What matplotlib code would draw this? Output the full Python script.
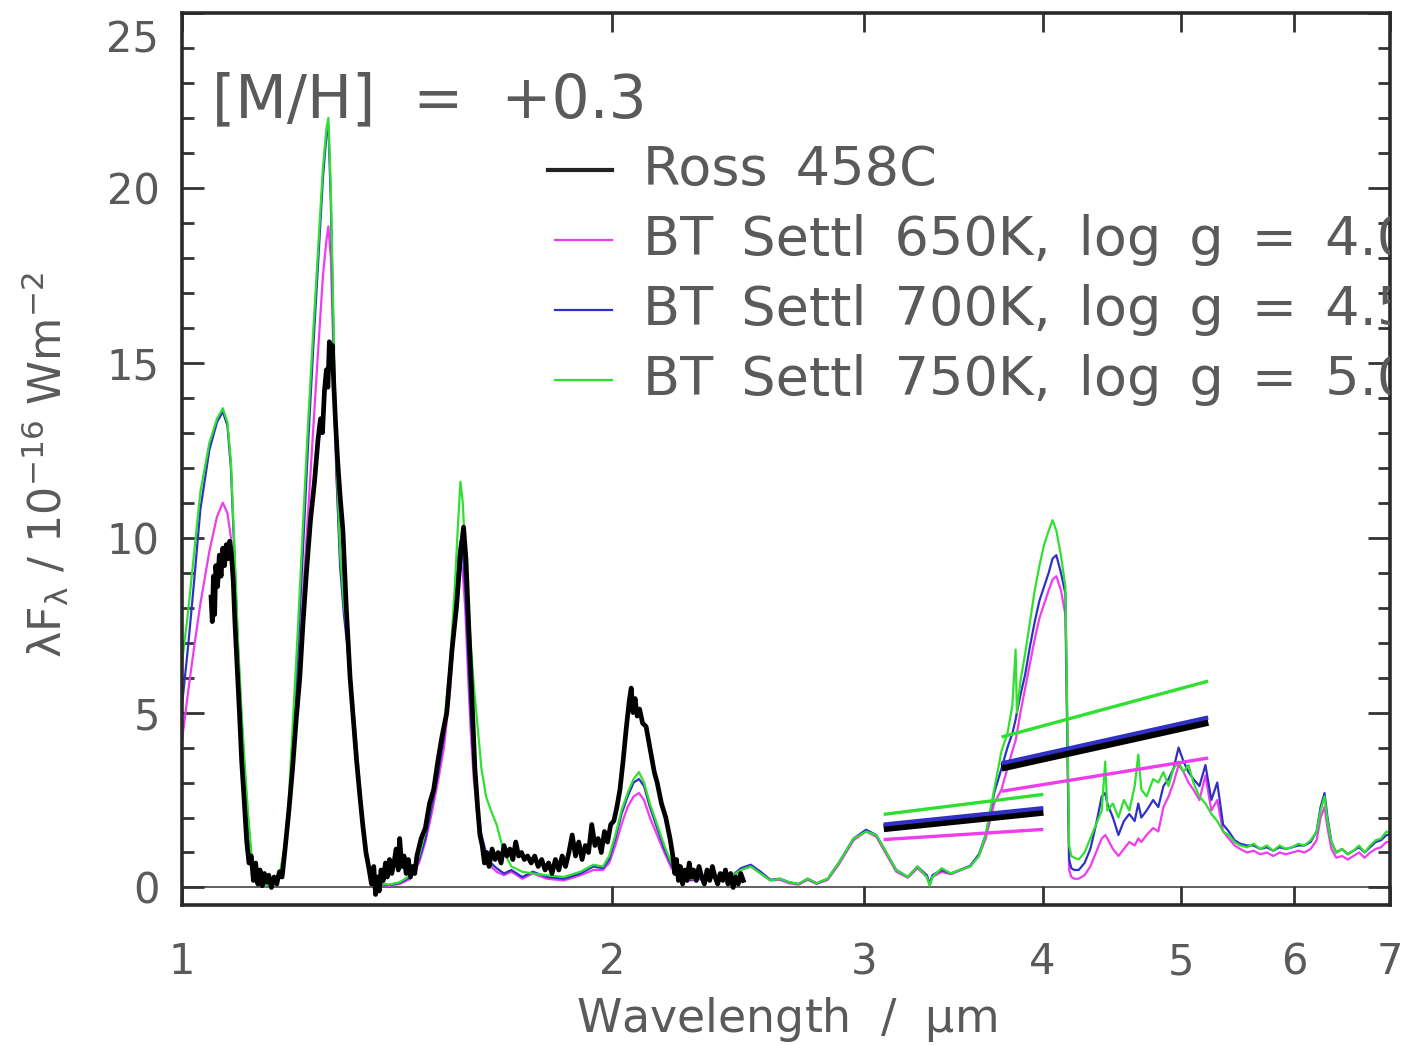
import matplotlib.pyplot as plt
from matplotlib.ticker import MultipleLocator, NullLocator

plt.rcParams['font.family'] = 'DejaVu Sans'
plt.rcParams['mathtext.default'] = 'regular'

# Ross 458C observed spectrum (wavelength in micron, lambda*F_lambda in 1e-16 W/m2)
ross_wl = [1.048, 1.050, 1.052, 1.054, 1.056, 1.059, 1.062, 1.065, 1.068, 1.071,
           1.074, 1.077, 1.080, 1.083, 1.086, 1.089, 1.093, 1.097, 1.101, 1.105,
           1.110, 1.114, 1.118, 1.122, 1.126, 1.130, 1.134, 1.138, 1.142, 1.146,
           1.150, 1.155, 1.160, 1.165, 1.170, 1.175, 1.180, 1.188, 1.195, 1.202,
           1.209, 1.215, 1.222, 1.230, 1.238, 1.245, 1.250, 1.254, 1.258, 1.262,
           1.265, 1.268, 1.271, 1.274, 1.277, 1.281, 1.285, 1.290, 1.296, 1.303,
           1.311, 1.318, 1.325, 1.332, 1.338, 1.345, 1.352, 1.357, 1.362, 1.366,
           1.370, 1.374, 1.378, 1.383, 1.388, 1.392, 1.397, 1.402, 1.407, 1.412,
           1.417, 1.420, 1.425, 1.430, 1.435, 1.440, 1.445, 1.450, 1.455, 1.460,
           1.470, 1.480, 1.490, 1.500, 1.510, 1.520, 1.532, 1.545, 1.556, 1.566,
           1.574, 1.580, 1.587, 1.595, 1.603, 1.610, 1.616, 1.622, 1.628, 1.634,
           1.640, 1.648, 1.656, 1.664, 1.672, 1.680, 1.688, 1.696, 1.704, 1.712,
           1.720, 1.728, 1.736, 1.745, 1.755, 1.765, 1.775, 1.785, 1.795, 1.805,
           1.815, 1.825, 1.835, 1.845, 1.855, 1.865, 1.875, 1.885, 1.895, 1.905,
           1.915, 1.925, 1.935, 1.945, 1.955, 1.965, 1.975, 1.985, 1.995, 2.005,
           2.015, 2.025, 2.035, 2.045, 2.055, 2.062, 2.068, 2.075, 2.082, 2.090,
           2.100, 2.112, 2.125, 2.140, 2.150, 2.165, 2.180, 2.195, 2.205, 2.212,
           2.218, 2.225, 2.232, 2.240, 2.248, 2.256, 2.264, 2.272, 2.280, 2.290,
           2.300, 2.310, 2.320, 2.330, 2.340, 2.350, 2.360, 2.370, 2.380, 2.390,
           2.400, 2.410, 2.420, 2.430, 2.440, 2.450, 2.460, 2.470]
ross_flux = [8.3, 7.6, 8.9, 7.8, 9.2, 8.6, 9.5, 8.9, 9.7, 9.2,
             9.8, 9.4, 9.9, 9.5, 8.8, 7.6, 6.3, 5.0, 3.6, 2.6,
             1.3, 0.7, 0.9, 0.2, 0.7, 0.1, 0.5, 0.05, 0.4, 0.15,
             0.35, 0.0, 0.3, 0.1, 0.45, 0.3, 1.0, 2.2, 3.4, 4.8,
             6.0, 7.5, 9.0, 10.5, 11.6, 12.8, 13.4, 13.0, 14.2, 14.8,
             14.3, 15.6, 15.0, 15.5, 14.4, 13.2, 12.2, 11.2, 10.2, 8.0,
             6.0, 4.8, 3.6, 2.6, 1.8, 1.0, 0.5, 0.1, 0.6, -0.2,
             0.3, -0.1, 0.5, 0.2, 0.7, 0.3, 0.8, 0.4, 0.7, 1.1,
             0.5, 1.4, 0.6, 0.9, 0.4, 0.8, 0.3, 0.6, 0.4, 0.9,
             1.4, 1.7, 2.4, 2.8, 3.6, 4.3, 5.0, 6.8, 8.0, 9.5,
             10.3, 9.4, 7.5, 5.5, 3.4, 2.3, 1.5, 1.2, 0.7, 1.0,
             0.6, 1.1, 0.8, 1.0, 0.7, 1.2, 0.9, 1.1, 0.8, 1.3,
             0.9, 1.0, 0.8, 0.9, 0.7, 0.9, 0.6, 0.8, 0.5, 0.7,
             0.4, 0.8, 0.5, 0.9, 0.6, 1.0, 1.5, 0.9, 1.3, 0.8,
             1.2, 1.0, 1.8, 1.2, 1.4, 1.0, 1.6, 1.3, 1.8, 1.9,
             2.3, 2.8, 3.6, 4.5, 5.3, 5.7, 5.0, 5.4, 4.9, 5.1,
             4.7, 4.6, 4.0, 3.3, 3.0, 2.4, 2.0, 1.4, 0.9, 0.4,
             0.8, 0.2, 0.6, 0.1, 0.5, 0.2, 0.7, 0.3, 0.5, 0.2,
             0.6, 0.3, 0.1, 0.5, 0.2, 0.6, 0.3, 0.1, 0.4, 0.2,
             0.5, 0.1, 0.4, 0.0, 0.3, 0.1, 0.4, 0.2]

# BT-Settl model spectra on a shared wavelength grid
model_wl = [1.000, 1.010, 1.020, 1.030, 1.045, 1.058, 1.068, 1.076, 1.082, 1.088,
            1.094, 1.100, 1.106, 1.112, 1.118, 1.124, 1.132, 1.145, 1.160, 1.172,
            1.180, 1.188, 1.196, 1.205, 1.215, 1.225, 1.235, 1.245, 1.255, 1.262,
            1.266, 1.271, 1.276, 1.282, 1.290, 1.298, 1.306, 1.315, 1.325, 1.335,
            1.345, 1.355, 1.370, 1.395, 1.420, 1.445, 1.465, 1.480, 1.495, 1.510,
            1.525, 1.540, 1.552, 1.560, 1.566, 1.572, 1.578, 1.585, 1.592, 1.600,
            1.610, 1.620, 1.632, 1.645, 1.660, 1.680, 1.700, 1.730, 1.760, 1.800,
            1.850, 1.900, 1.940, 1.970, 1.990, 2.010, 2.030, 2.050, 2.070, 2.088,
            2.105, 2.125, 2.150, 2.175, 2.200, 2.230, 2.270, 2.320, 2.370, 2.420,
            2.460, 2.500, 2.540, 2.580, 2.620, 2.660, 2.700, 2.740, 2.780, 2.830,
            2.880, 2.950, 3.010, 3.060, 3.100, 3.160, 3.220, 3.270, 3.320, 3.335,
            3.350, 3.400, 3.450, 3.500, 3.560, 3.610, 3.650, 3.700, 3.744, 3.780,
            3.810, 3.830, 3.838, 3.860, 3.890, 3.920, 3.950, 3.980, 4.010, 4.040,
            4.065, 4.090, 4.120, 4.150, 4.175, 4.190, 4.210, 4.240, 4.280, 4.320,
            4.360, 4.400, 4.425, 4.440, 4.480, 4.520, 4.560, 4.600, 4.640, 4.667,
            4.690, 4.730, 4.780, 4.820, 4.860, 4.900, 4.940, 4.980, 5.020, 5.060,
            5.100, 5.150, 5.200, 5.250, 5.300, 5.350, 5.400, 5.450, 5.500, 5.560,
            5.620, 5.680, 5.740, 5.800, 5.860, 5.920, 5.980, 6.040, 6.100, 6.160,
            6.220, 6.260, 6.300, 6.330, 6.370, 6.420, 6.480, 6.540, 6.600, 6.660,
            6.720, 6.780, 6.840, 6.900, 6.960, 7.000]
settl_650 = [4.2, 5.6, 6.9, 8.1, 9.6, 10.6, 11.0, 10.7, 10.0, 8.4,
             6.4, 4.6, 3.1, 1.8, 0.8, 0.3, 0.08, 0.03, 0.1, 0.4,
             1.0, 2.1, 3.8, 5.9, 8.3, 10.7, 13.0, 15.3, 17.5, 18.5,
             18.9, 18.0, 15.5, 12.0, 9.5, 8.2, 6.8, 5.0, 3.5, 2.0,
             0.9, 0.35, 0.1, 0.05, 0.1, 0.25, 0.7, 1.3, 2.1, 3.0,
             4.0, 5.6, 7.5, 8.8, 9.3, 9.0, 8.0, 6.2, 4.5, 3.1,
             2.0, 1.3, 0.9, 0.6, 0.45, 0.35, 0.45, 0.25, 0.4, 0.25,
             0.2, 0.35, 0.5, 0.5, 0.7, 1.2, 1.8, 2.3, 2.6, 2.7,
             2.5, 2.0, 1.5, 1.0, 0.55, 0.25, 0.2, 0.25, 0.3, 0.25,
             0.5, 0.6, 0.4, 0.2, 0.22, 0.12, 0.08, 0.22, 0.1, 0.22,
             0.65, 1.35, 1.6, 1.45, 1.05, 0.45, 0.28, 0.55, 0.3, 0.08,
             0.3, 0.45, 0.38, 0.48, 0.6, 0.9, 1.4, 2.4, 2.8, 3.4,
             3.9, 4.2, 4.4, 5.0, 5.7, 6.4, 7.1, 7.7, 8.1, 8.5,
             8.8, 8.9, 8.5, 7.8, 0.5, 0.3, 0.25, 0.25, 0.35, 0.6,
             1.0, 1.4, 1.5, 1.4, 1.1, 0.9, 1.1, 1.3, 1.2, 1.4,
             1.3, 1.5, 1.7, 1.6, 2.3, 2.6, 3.0, 3.5, 3.3, 3.0,
             2.8, 2.5, 3.2, 2.2, 2.5, 1.6, 1.4, 1.2, 1.1, 1.0,
             1.05, 0.95, 1.0, 0.9, 1.0, 0.95, 1.0, 1.05, 1.0, 1.1,
             1.35, 2.0, 2.3, 1.7, 1.1, 0.85, 0.9, 0.8, 0.9, 1.0,
             0.85, 1.0, 1.1, 1.15, 1.3, 1.3]
settl_700 = [5.2, 6.9, 8.8, 10.8, 12.5, 13.3, 13.6, 13.2, 12.0, 9.6,
             7.0, 5.0, 3.4, 2.0, 0.9, 0.35, 0.1, 0.04, 0.12, 0.45,
             1.1, 2.3, 4.3, 6.7, 9.6, 12.6, 15.3, 17.8, 20.3, 21.5,
             21.8, 19.6, 16.0, 12.0, 9.2, 7.8, 6.8, 5.3, 3.8, 2.2,
             1.0, 0.4, 0.13, 0.07, 0.13, 0.3, 0.8, 1.4, 2.3, 3.2,
             4.3, 6.0, 8.0, 9.4, 9.9, 9.6, 8.6, 6.8, 5.0, 3.5,
             2.3, 1.5, 1.0, 0.7, 0.55, 0.4, 0.5, 0.3, 0.45, 0.3,
             0.25, 0.4, 0.6, 0.55, 0.8, 1.4, 2.1, 2.6, 3.0, 3.1,
             2.9, 2.3, 1.7, 1.1, 0.65, 0.3, 0.22, 0.28, 0.32, 0.3,
             0.55, 0.65, 0.45, 0.22, 0.25, 0.15, 0.1, 0.25, 0.12, 0.25,
             0.7, 1.4, 1.65, 1.5, 1.1, 0.5, 0.3, 0.6, 0.35, 0.1,
             0.35, 0.5, 0.4, 0.5, 0.62, 0.95, 1.5, 2.7, 3.4, 4.0,
             4.4, 4.8, 5.0, 5.5, 6.1, 6.9, 7.6, 8.2, 8.6, 9.0,
             9.4, 9.5, 9.0, 8.4, 0.8, 0.55, 0.5, 0.5, 0.7, 1.1,
             1.8, 2.6, 2.7, 2.4, 2.0, 1.5, 1.9, 2.1, 1.9, 2.4,
             2.0, 2.2, 2.5, 2.3, 2.9, 3.1, 3.4, 4.0, 3.6, 3.3,
             3.1, 2.9, 3.5, 2.5, 3.0, 1.8, 1.6, 1.35, 1.25, 1.2,
             1.2, 1.1, 1.15, 1.05, 1.15, 1.1, 1.15, 1.2, 1.2, 1.3,
             1.6, 2.3, 2.7, 2.0, 1.3, 1.0, 1.1, 0.95, 1.05, 1.15,
             1.0, 1.15, 1.3, 1.35, 1.5, 1.5]
settl_750 = [6.4, 7.9, 9.6, 11.3, 12.7, 13.4, 13.7, 13.3, 12.2, 9.8,
             7.2, 5.2, 3.6, 2.2, 1.0, 0.4, 0.12, 0.05, 0.15, 0.5,
             1.2, 2.6, 4.8, 7.3, 10.3, 13.2, 15.8, 18.2, 20.6, 21.7,
             22.0, 20.0, 16.5, 12.5, 9.6, 8.1, 7.1, 5.6, 4.0, 2.4,
             1.1, 0.45, 0.15, 0.08, 0.15, 0.35, 0.9, 1.6, 2.5, 3.5,
             4.6, 6.4, 8.6, 10.4, 11.6, 11.0, 9.6, 8.3, 7.0, 5.8,
             4.6, 3.4, 2.6, 2.2, 1.8, 1.0, 0.6, 0.45, 0.4, 0.35,
             0.3, 0.45, 0.65, 0.6, 0.9, 1.5, 2.2, 2.7, 3.1, 3.3,
             3.0, 2.4, 1.8, 1.2, 0.7, 0.35, 0.25, 0.3, 0.35, 0.3,
             0.5, 0.6, 0.4, 0.2, 0.25, 0.15, 0.1, 0.25, 0.12, 0.25,
             0.7, 1.4, 1.6, 1.5, 1.1, 0.5, 0.3, 0.6, 0.3, 0.05,
             0.3, 0.55, 0.4, 0.5, 0.6, 0.9, 1.5, 2.8, 3.9, 4.4,
             5.2, 6.8, 5.0, 5.9, 6.7, 7.6, 8.5, 9.2, 9.8, 10.2,
             10.5, 10.2, 9.5, 8.6, 1.2, 0.9, 0.85, 0.8, 1.0, 1.4,
             1.8, 2.2, 3.6, 2.2, 2.4, 2.0, 2.5, 2.2, 2.9, 3.8,
             2.8, 2.6, 3.1, 3.0, 3.3, 2.9, 3.4, 3.6, 3.3, 3.5,
             3.0, 2.6, 2.4, 2.1, 1.9, 1.6, 1.5, 1.3, 1.2, 1.15,
             1.25, 1.1, 1.2, 1.05, 1.2, 1.1, 1.15, 1.25, 1.2, 1.35,
             1.6, 2.2, 2.6, 1.9, 1.3, 1.0, 1.1, 0.95, 1.05, 1.2,
             1.0, 1.2, 1.35, 1.4, 1.6, 1.55]

# photometric band segments: [start, end] wavelength and flux at each end
band1_wl = [3.097, 4.005]
band2_wl = [3.744, 5.223]
ross_band1 = [1.70, 2.17]
ross_band2 = [3.43, 4.74]
settl_650_band1 = [1.37, 1.66]
settl_650_band2 = [2.75, 3.70]
settl_700_band1 = [1.80, 2.27]
settl_700_band2 = [3.55, 4.86]
settl_750_band1 = [2.09, 2.66]
settl_750_band2 = [4.30, 5.90]

# word gaps widened with a thin space
sp = ' \u2009'
labels = ['Ross' + sp + '458C',
          sp.join(['BT', 'Settl', '650K,', 'log', 'g', '=', '4.0']),
          sp.join(['BT', 'Settl', '700K,', 'log', 'g', '=', '4.5']),
          sp.join(['BT', 'Settl', '750K,', 'log', 'g', '=', '5.0'])]
x_ticks = [1, 2, 3, 4, 5, 6, 7]
y_ticks = [0, 5, 10, 15, 20, 25]

pink = '#ee3cee'
blue = '#3030c8'
green = '#30e030'
grey = '#5a5a5a'

fig = plt.figure(figsize=(14.25, 10.45), dpi=100)
ax = fig.add_axes([0.1277, 0.1340, 0.8477, 0.8536])

ax.axhline(0, color='#444444', lw=1.2, zorder=1)

ax.plot(model_wl, settl_650, color=pink, lw=1.6)
ax.plot(model_wl, settl_700, color=blue, lw=1.6)
ax.plot(model_wl, settl_750, color=green, lw=1.6)
ax.plot(ross_wl, ross_flux, color='black', lw=3.4)

for wl, r, p, b, g in [(band1_wl, ross_band1, settl_650_band1, settl_700_band1, settl_750_band1),
                       (band2_wl, ross_band2, settl_650_band2, settl_700_band2, settl_750_band2)]:
    ax.plot(wl, p, color=pink, lw=2.4, solid_capstyle='butt')
    ax.plot(wl, g, color=green, lw=2.4, solid_capstyle='butt')
    ax.plot(wl, r, color='black', lw=6.0, solid_capstyle='butt')
    ax.plot(wl, b, color=blue, lw=3.0, solid_capstyle='butt')

ax.set_xscale('log')
ax.set_xlim(1, 7)
ax.set_ylim(-0.5, 25)
ax.set_xticks(x_ticks)
ax.set_xticklabels([str(t) for t in x_ticks])
ax.xaxis.set_minor_locator(NullLocator())
ax.set_yticks(y_ticks)
ax.set_yticklabels([str(t) for t in y_ticks[:-1]] + [''])
ax.yaxis.set_minor_locator(MultipleLocator(1))

ax.tick_params(axis='x', which='major', direction='in', top=True, length=14, width=2,
               color='#333333', labelsize=30, labelcolor=grey, pad=26)
ax.tick_params(axis='y', which='major', direction='in', right=True, length=16, width=2,
               color='#333333', labelsize=30, labelcolor=grey, pad=16)
ax.tick_params(axis='y', which='minor', direction='in', right=True, length=8.5, width=2,
               color='#333333')
for s in ax.spines.values():
    s.set_linewidth(2.6)
    s.set_color('#2a2a2a')

# top label sits a little below its tick
ax.text(-0.019, 24.2, '25', transform=ax.get_yaxis_transform(), ha='right', va='center',
        fontsize=30, color=grey)

ax.text(0.0248, 0.902, '[M/H]  =  +0.3', transform=ax.transAxes, ha='left', va='center',
        fontsize=43, color=grey)

# legend drawn by hand so the long labels are cut by the frame
leg_colors = ['#222222', pink, blue, green]
leg_widths = [3.0, 1.6, 1.6, 1.6]
leg_start = [0.303, 0.309, 0.309, 0.309]
for i, lab in enumerate(labels):
    y = 0.824 - i * 0.0785
    ax.plot([leg_start[i], 0.356], [y, y], transform=ax.transAxes, color=leg_colors[i],
            lw=leg_widths[i], clip_on=False)
    ax.text(0.3816, y, lab, transform=ax.transAxes, ha='left', va='center',
            fontsize=39, color=grey, clip_on=True)

fig.text(0.5516, 0.024, r'Wavelength  /  $\mu$m', ha='center', va='center',
         fontsize=33, color=grey)
fig.text(0.0316, 0.555, r'$\lambda$F$_\lambda$ / 10$^{-16}$ Wm$^{-2}$', rotation=90,
         ha='center', va='center', fontsize=32, color=grey)

fig.savefig('out.png', dpi=100)
